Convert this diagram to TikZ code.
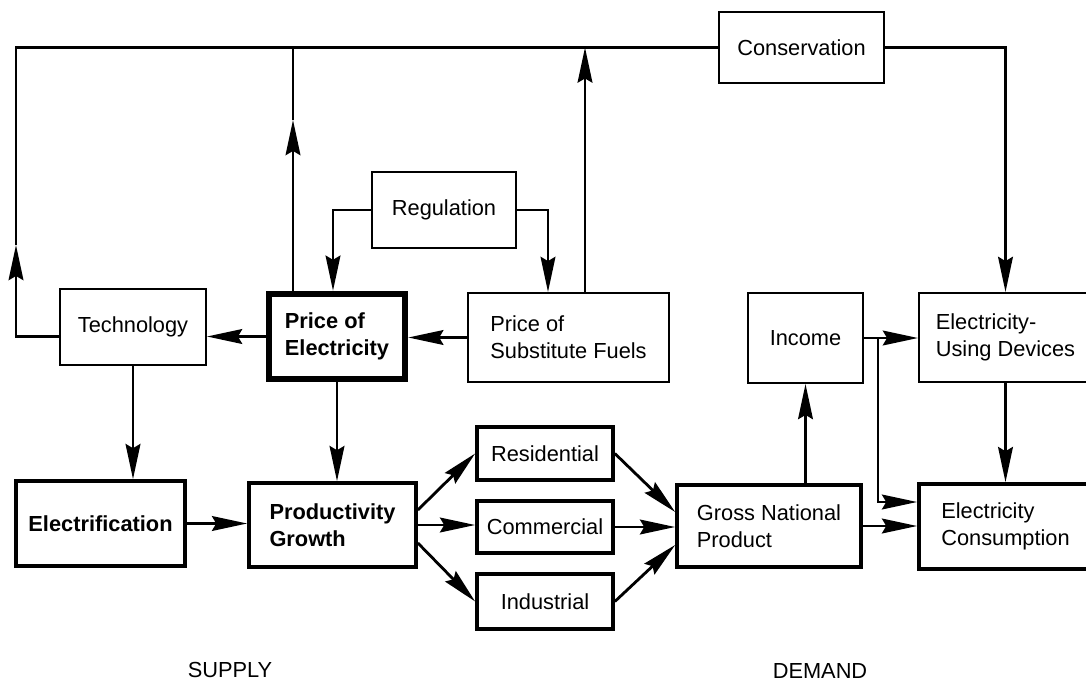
\documentclass[tikz,border=0pt]{standalone}
\usepackage{fontspec}
\setmainfont{Liberation Sans}
\usetikzlibrary{arrows.meta, calc}
\tikzset{
  box/.style = {draw, line width=1.4pt, align=left, inner sep=2pt,
    font=\fontsize{15.5}{19}\selectfont},
  heavybox/.style = {box, line width=2.6pt},
  pricebox/.style = {box, line width=4.6pt},
  boldtext/.style = {font=\fontsize{15.5}{19}\selectfont\bfseries},
  sidetext/.style = {font=\fontsize{15.5}{19}\selectfont},
  link/.style = {line width=2pt},
  flow/.style = {link, -{Stealth[length=25pt,width=10.5pt,inset=3pt]}}
}

\begin{document}
\begin{tikzpicture}[x=0.025cm, y=-0.025cm]
  \useasboundingbox (0,0) rectangle (1086,685);

  % top row
  \node[box, minimum width=4.125cm, minimum height=1.775cm] (cons) at (801.5,47.5) {Conservation};
  \node[box, minimum width=3.6cm, minimum height=1.9cm] (reg) at (444,210) {Regulation};

  % middle row
  \node[box, minimum width=3.65cm, minimum height=1.9cm] (tech) at (133,327) {Technology};
  \node[pricebox, boldtext, minimum width=3.4cm, minimum height=2.125cm] (price) at (337,336.5) {Price of\\Electricity};
  \node[box, minimum width=5.025cm, minimum height=2.225cm] (subst) at (568.5,337.5) {Price of\\Substitute Fuels};
  \node[box, minimum width=2.875cm, minimum height=2.25cm] (income) at (805.5,338) {Income};
  \node[box, minimum width=4.325cm, minimum height=2.225cm] (devices) at (1005.5,337.5) {Electricity-\\Using Devices};

  % bottom row
  \node[heavybox, boldtext, minimum width=4.225cm, minimum height=2.125cm] (elec) at (100.5,523.5) {Electrification};
  \node[heavybox, boldtext, minimum width=4.175cm, minimum height=2.1cm] (prod) at (332.5,525) {Productivity\\Growth};
  \node[heavybox, minimum width=3.4cm, minimum height=1.325cm] (res) at (545,453.5) {Residential};
  \node[heavybox, minimum width=3.4cm, minimum height=1.3cm] (com) at (545,527) {Commercial};
  \node[heavybox, minimum width=3.4cm, minimum height=1.375cm] (ind) at (545,601.5) {Industrial};
  \node[heavybox, minimum width=4.6cm, minimum height=2.05cm] (gnp) at (769,526) {Gross National\\Product};
  \node[heavybox, minimum width=4.325cm, minimum height=2.125cm] (use) at (1005.5,526.5) {Electricity\\Consumption};

  \node[sidetext] (supply) at (230,670) {SUPPLY};
  \node[sidetext] (demand) at (820,671) {DEMAND};

  % feedback to conservation
  \coordinate (lefttip) at (16,245);
  \coordinate (pricetip) at (293,120);
  \coordinate (fueltop) at (585,47.5);
  \draw[flow] (tech.west |- price.west) -| (lefttip);
  \draw[link] (lefttip) |- (cons.west);
  \draw[flow] (pricetip |- price.north) -- (pricetip);
  \draw[link] (pricetip) -- (pricetip |- cons.west);
  \draw[flow] (fueltop |- subst.north) -- (fueltop);
  \draw[flow] (cons.east) -| (devices.north);

  % regulation
  \draw[flow] (reg.west) -| ($(price.north)+(-4,0)$);
  \draw[flow] (reg.east) -| ($(subst.north)+(-20.5,0)$);

  % supply side
  \draw[flow] (subst.west) -- (subst.west -| price.east);
  \draw[flow] (price.west) -- (price.west -| tech.east);
  \draw[flow] (tech.south) -- (tech.south |- elec.north);
  \draw[flow] (price.south) -- (price.south |- prod.north);
  \draw[flow] (elec.east) -- (elec.east -| prod.west);

  % sectors
  \draw[flow] ($(prod.east)+(0,-15)$) -- (res.west);
  \draw[flow] (prod.east) -- (prod.east -| com.west);
  \draw[flow] ($(prod.east)+(0,18)$) -- (ind.west);
  \draw[flow] (res.east) -- ($(gnp.west)+(0,-14)$);
  \draw[flow] (com.east) -- (com.east -| gnp.west);
  \draw[flow] (ind.east) -- ($(gnp.west)+(0,19)$);

  % demand side
  \coordinate (branch) at ($(income.east)+(14,0)$);
  \draw[flow] (income.south |- gnp.north) -- (income.south);
  \draw[flow] (income.east) -- (income.east -| devices.west);
  \draw[flow] (branch) |- ($(use.west)+(0,-24.5)$);
  \draw[flow] (gnp.east) -- (gnp.east -| use.west);
  \draw[flow] (devices.south) -- (devices.south |- use.north);
\end{tikzpicture}
\end{document}
